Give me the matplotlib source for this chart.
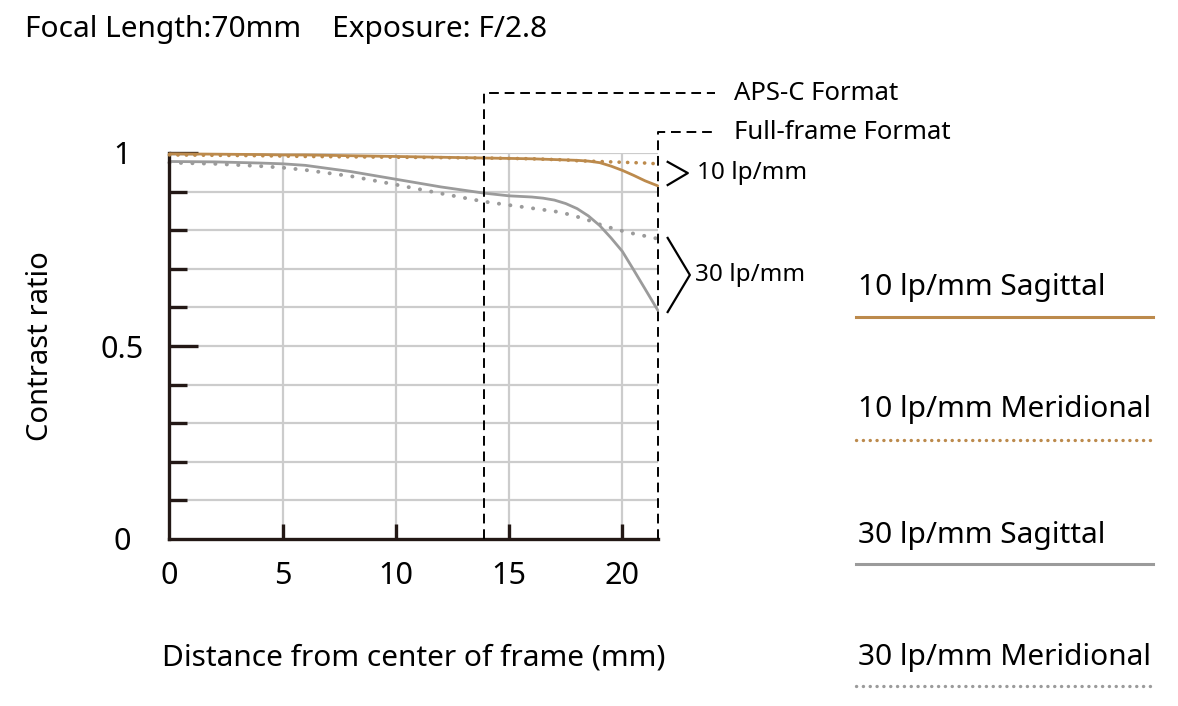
import numpy as np
import matplotlib.pyplot as plt
from matplotlib.lines import Line2D

plt.rcParams['font.family'] = ['Noto Sans', 'DejaVu Sans']

# MTF data
x_pos = [0, 2, 4, 5, 6, 8, 10, 12, 13.9, 15, 16, 16.5, 17, 17.5, 18, 18.5, 19, 19.5, 20, 20.5, 21, 21.56]
sag_10 = [0.998, 0.997, 0.996, 0.995, 0.995, 0.993, 0.991, 0.989, 0.987, 0.986, 0.985, 0.984, 0.983, 0.982, 0.981, 0.979, 0.975, 0.966, 0.955, 0.942, 0.928, 0.915]
mer_10 = [0.995, 0.994, 0.993, 0.992, 0.991, 0.990, 0.989, 0.988, 0.987, 0.986, 0.985, 0.984, 0.983, 0.982, 0.980, 0.979, 0.978, 0.977, 0.976, 0.975, 0.974, 0.972]
sag_30 = [0.978, 0.977, 0.974, 0.972, 0.968, 0.952, 0.932, 0.912, 0.896, 0.889, 0.886, 0.883, 0.878, 0.869, 0.856, 0.837, 0.812, 0.780, 0.745, 0.697, 0.648, 0.593]
mer_30 = [0.975, 0.972, 0.966, 0.962, 0.956, 0.940, 0.918, 0.895, 0.874, 0.865, 0.857, 0.853, 0.849, 0.843, 0.835, 0.826, 0.815, 0.806, 0.798, 0.791, 0.785, 0.778]

aps_c = 13.9
full_frame = 21.56

legend_labels = ['10 lp/mm Sagittal', '10 lp/mm Meridional', '30 lp/mm Sagittal', '30 lp/mm Meridional']

ORANGE = '#BC8A4C'
GRAY = '#9B9B9B'
INK = '#231815'

fig = plt.figure(figsize=(11.78, 7.06), dpi=100)
ax = fig.add_axes([169.4 / 1178, (706 - 539) / 706, 488.3 / 1178, 386 / 706])
ax.set_xlim(0, full_frame)
ax.set_ylim(0, 1)

# grid
for gx in [5, 10, 15, 20]:
    ax.axvline(gx, color='#CCCCCC', lw=1.6, zorder=0)
for gy in np.arange(1, 11) / 10:
    ax.axhline(gy, color='#CCCCCC', lw=1.6, zorder=0)

# curves
ax.plot(x_pos, sag_10, color=ORANGE, lw=2, solid_capstyle='round', zorder=3, clip_on=False)
ax.plot(x_pos, mer_10, color=ORANGE, lw=2.6, linestyle=(0, (0.05, 2.3)),
        dash_capstyle='round', zorder=3, clip_on=False)
ax.plot(x_pos, sag_30, color=GRAY, lw=2, solid_capstyle='round', zorder=2, clip_on=False)
ax.plot(x_pos, mer_30, color=GRAY, lw=2.8, linestyle=(0, (0.05, 2.9)),
        dash_capstyle='round', zorder=2, clip_on=False)

# spines and ticks
for s in ['top', 'right']:
    ax.spines[s].set_visible(False)
for s in ['left', 'bottom']:
    ax.spines[s].set_linewidth(2.4)
    ax.spines[s].set_color(INK)

ax.set_xticks([0, 5, 10, 15, 20])
ax.set_xticklabels(['0', '5', '10', '15', '20'], fontsize=22)
ax.tick_params(axis='x', direction='in', length=11, width=2.4, color=INK, pad=16)
ax.xaxis.get_major_ticks()[0].tick1line.set_visible(False)

ax.set_yticks([0, 0.5, 1])
ax.set_yticklabels(['0', '0.5', '1'], fontsize=22, ha='center')
ax.tick_params(axis='y', direction='in', length=21, width=2.4, color=INK, pad=34)
ax.yaxis.get_major_ticks()[0].tick1line.set_visible(False)
ax.set_yticks([0.1, 0.2, 0.3, 0.4, 0.6, 0.7, 0.8, 0.9], minor=True)
ax.tick_params(axis='y', which='minor', direction='in', length=13, width=2.4, color=INK)
ax.tick_params(axis='x', which='minor', length=0)

ax.set_xlabel('Distance from center of frame (mm)', fontsize=21.5, labelpad=38)
ax.set_ylabel('Contrast ratio', fontsize=21, labelpad=33)

# format markers
y_aps = 1.155
y_ff = 1.054
x_end = 24.1
ax.plot([aps_c, aps_c, x_end], [0, y_aps, y_aps], color='black', lw=1.4,
        linestyle=(0, (5, 3)), clip_on=False, zorder=4)
ax.plot([full_frame, full_frame, x_end], [0, y_ff, y_ff], color='black', lw=1.4,
        linestyle=(0, (5, 3)), clip_on=False, zorder=4)
ax.text(24.95, y_aps, 'APS-C Format', fontsize=18.5, va='center', ha='left')
ax.text(24.95, y_ff, 'Full-frame Format', fontsize=18.5, va='center', ha='left')

# brackets
ax.plot([22.0, 22.89, 22.0], [0.977, 0.948, 0.917], color='black', lw=1.6, clip_on=False)
ax.plot([22.0, 22.98, 22.0], [0.78, 0.684, 0.588], color='black', lw=1.6, clip_on=False)
ax.text(23.3, 0.948, '10 lp/mm', fontsize=17.5, va='center', ha='left')
ax.text(23.2, 0.684, '30 lp/mm', fontsize=17.5, va='center', ha='left')

# title
fig.text(25 / 1178, 1 - 30 / 706, 'Focal Length:70mm    Exposure: F/2.8',
         fontsize=21.5, va='center', ha='left')

# legend on the right
text_y = [288, 410, 536, 658]
line_y = [317, 440, 564, 686]
styles = [
    dict(color=ORANGE, lw=2.2, linestyle='-'),
    dict(color=ORANGE, lw=2.4, linestyle=(0, (0.05, 2.0)), dash_capstyle='round'),
    dict(color=GRAY, lw=2.2, linestyle='-'),
    dict(color=GRAY, lw=2.4, linestyle=(0, (0.05, 2.0)), dash_capstyle='round'),
]
for lab, ty, ly, st in zip(legend_labels, text_y, line_y, styles):
    fig.text(858 / 1178, 1 - ty / 706, lab, fontsize=21.5, va='center', ha='left')
    fig.add_artist(Line2D([856 / 1178, 1153 / 1178], [1 - ly / 706, 1 - ly / 706],
                          transform=fig.transFigure, **st))

fig.savefig('out.png', dpi=100)
